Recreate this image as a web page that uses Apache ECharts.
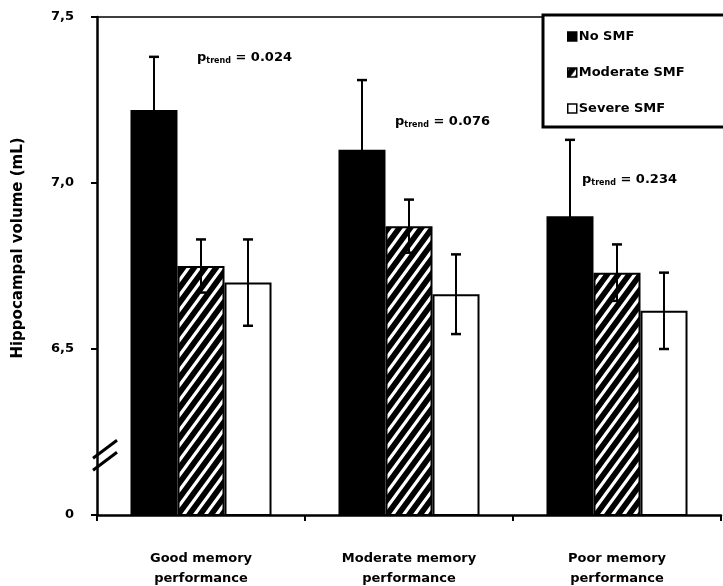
<!DOCTYPE html>
<html>
<head>
<meta charset="utf-8">
<script src="https://cdn.jsdelivr.net/npm/echarts@6/dist/echarts.min.js"></script>
<style>
  html, body { margin: 0; padding: 0; background: #fff; }
  #chart { width: 723px; height: 586px; }
</style>
</head>
<body>
<div id="chart"></div>
<script>
// Hippocampal volume (mL) by memory performance and subjective memory failure (SMF)
const categories = ['Good memory\nperformance', 'Moderate memory\nperformance', 'Poor memory\nperformance'];
const seriesNames = ['No SMF', 'Moderate SMF', 'Severe SMF'];

const noSmf = [7.22, 7.10, 6.90];
const noSmfErr = [0.16, 0.21, 0.23];
const moderateSmf = [6.75, 6.87, 6.73];
const moderateSmfErr = [0.08, 0.08, 0.085];
const severeSmf = [6.70, 6.665, 6.615];
const severeSmfErr = [0.13, 0.12, 0.115];

const pTrend = ['0.024', '0.076', '0.234'];

// y axis: broken scale, bottom tick is shown as 0
const yMin = 6.0, yMax = 7.5, yStep = 0.5;
const yTickLabel = v => (Math.abs(v - yMin) < 1e-9 ? '0' : v.toFixed(1).replace('.', ','));

const FONT = '"DejaVu Sans", "Liberation Sans", Arial, sans-serif';
const BAR_FRAC = 0.226;

function hatch() {
  const w = 11, h = 15;
  const c = document.createElement('canvas');
  c.width = w; c.height = h;
  const g = c.getContext('2d');
  g.fillStyle = '#000';
  g.fillRect(0, 0, w, h);
  g.strokeStyle = '#fff';
  g.lineWidth = 3.2;
  g.beginPath();
  g.moveTo(0, h); g.lineTo(w, 0);
  g.moveTo(-w, h); g.lineTo(w, -h);
  g.moveTo(0, 2 * h); g.lineTo(2 * w, 0);
  g.stroke();
  return c;
}
const hatchFill = { image: hatch(), repeat: 'repeat' };

const means = [noSmf, moderateSmf, severeSmf];
const errs = [noSmfErr, moderateSmfErr, severeSmfErr];
const fills = ['#000', hatchFill, '#fff'];

const errData = [];
means.forEach((arr, k) => arr.forEach((v, i) => errData.push([i, v, errs[k][i], k])));

function renderErr(params, api) {
  const cat = api.value(0), val = api.value(1), e = api.value(2), k = api.value(3);
  const barW = api.size([1, 0])[0] * BAR_FRAC;
  const x = api.coord([cat, val])[0] + (k - 1) * barW;
  const yt = api.coord([cat, val + e])[1];
  const yb = api.coord([cat, val - e])[1];
  const cap = 5;
  const capStyle = { stroke: '#000', lineWidth: 2.5 };
  return {
    type: 'group',
    children: [
      { type: 'line', shape: { x1: x, y1: yt, x2: x, y2: yb }, style: { stroke: '#000', lineWidth: 2 } },
      { type: 'line', shape: { x1: x - cap, y1: yt, x2: x + cap, y2: yt }, style: capStyle },
      { type: 'line', shape: { x1: x - cap, y1: yb, x2: x + cap, y2: yb }, style: capStyle }
    ]
  };
}

const barSeries = seriesNames.map((name, k) => ({
  name,
  type: 'bar',
  data: means[k],
  barWidth: (BAR_FRAC * 100) + '%',
  barGap: '0%',
  itemStyle: { color: fills[k], borderColor: '#000', borderWidth: k === 0 ? 0 : 2 },
  z: 2
}));

const chart = echarts.init(document.getElementById('chart'), null, { renderer: 'canvas' });

chart.setOption({
  backgroundColor: '#fff',
  animation: false,
  grid: { left: 97, right: 2, top: 17, bottom: 71, outerBoundsMode: 'none', containLabel: false },
  legend: {
    data: seriesNames,
    orient: 'vertical',
    left: 543,
    top: 15,
    padding: [15, 40, 12, 24],
    itemGap: 23,
    itemWidth: 9,
    itemHeight: 9,
    icon: 'rect',
    borderColor: '#000',
    borderWidth: 3,
    backgroundColor: '#fff',
    itemStyle: { borderColor: '#000', borderWidth: 1.5 },
    textStyle: { fontFamily: FONT, fontWeight: 'bold', fontSize: 13, color: '#000', padding: [0, 0, 0, -3] }
  },
  xAxis: [{
    type: 'category',
    data: categories,
    axisLine: { lineStyle: { color: '#000', width: 2.5 } },
    axisTick: { show: true, length: 6, lineStyle: { color: '#000', width: 2 } },
    axisLabel: { color: '#000', fontFamily: FONT, fontWeight: 'bold', fontSize: 13, lineHeight: 20, margin: 34 }
  }, {
    type: 'category',
    data: categories,
    position: 'top',
    axisLine: { lineStyle: { color: '#000', width: 1.5 } },
    axisTick: { show: false },
    axisLabel: { show: false }
  }],
  yAxis: {
    type: 'value',
    min: yMin,
    max: yMax,
    interval: yStep,
    splitLine: { show: false },
    axisLine: { show: true, lineStyle: { color: '#000', width: 2.5 } },
    axisTick: { show: true, length: 6, lineStyle: { color: '#000', width: 2 } },
    axisLabel: { formatter: yTickLabel, color: '#000', fontFamily: FONT, fontWeight: 'bold', fontSize: 13, margin: 23 }
  },
  series: [
    ...barSeries,
    {
      name: 'err',
      type: 'custom',
      renderItem: renderErr,
      data: errData,
      encode: { x: 0, y: 1 },
      z: 5,
      silent: true
    }
  ]
});

// annotations: axis title, trend p-values, axis break marks
const pAnchor = [[0, -4, 7.377], [1, -14, 7.185], [2, -35, 7.01]];
const graphics = [];
graphics.push({
  type: 'text',
  x: 18, y: 248,
  rotation: Math.PI / 2,
  style: {
    text: 'Hippocampal volume (mL)',
    fontFamily: FONT, fontWeight: 'bold', fontSize: 15, fill: '#000',
    align: 'center', verticalAlign: 'middle'
  }
});
pAnchor.forEach(([cat, dx, v], i) => {
  const p = chart.convertToPixel({ gridIndex: 0 }, [cat, v]);
  graphics.push({
    type: 'text',
    x: p[0] + dx, y: p[1],
    z: 10,
    style: {
      text: '{p|p}{s|trend}{v| = ' + pTrend[i] + '}',
      verticalAlign: 'middle',
      rich: {
        p: { fontFamily: FONT, fontWeight: 'bold', fontSize: 13, fill: '#000' },
        s: { fontFamily: FONT, fontWeight: 'bold', fontSize: 8, fill: '#000', padding: [6, 0, 0, 0] },
        v: { fontFamily: FONT, fontWeight: 'bold', fontSize: 13, fill: '#000' }
      }
    }
  });
});
const breakY = chart.convertToPixel({ yAxisIndex: 0 }, 6.18);
const axisX = chart.convertToPixel({ xAxisIndex: 0 }, 0) - 104;
[-6, 6].forEach(off => {
  graphics.push({
    type: 'line',
    z: 10,
    shape: { x1: axisX - 4, y1: breakY + off + 9, x2: axisX + 20, y2: breakY + off - 9 },
    style: { stroke: '#000', lineWidth: 3 }
  });
});
chart.setOption({ graphic: graphics });
</script>
</body>
</html>
